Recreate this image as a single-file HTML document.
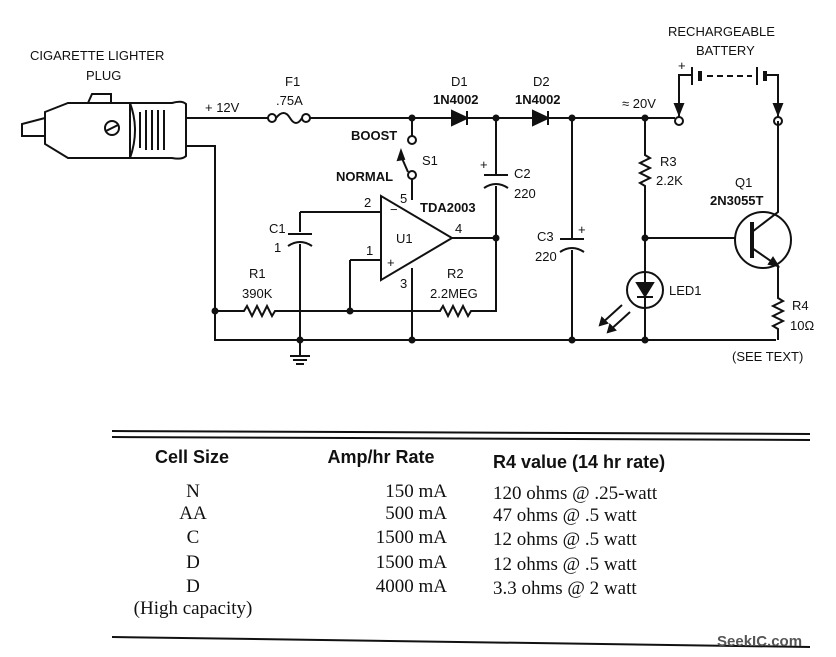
<!DOCTYPE html>
<html><head><meta charset="utf-8"><style>
html,body{margin:0;padding:0;background:#fff;}
svg{display:block}
.l{font-family:"Liberation Sans",sans-serif;font-size:13px;fill:#111}
.b{font-family:"Liberation Sans",sans-serif;font-size:13px;font-weight:bold;fill:#111}
.h{font-family:"Liberation Sans",sans-serif;font-size:18px;font-weight:bold;fill:#111}
.s{font-family:"Liberation Serif",serif;font-size:19px;fill:#111}
</style></head><body>
<svg width="836" height="657" viewBox="0 0 836 657" xmlns="http://www.w3.org/2000/svg">
<g stroke="#111" stroke-width="2" fill="none">
<!-- plug -->
<path d="M45,118 L22,124 L22,136 L45,136"/>
<path d="M45,112 L68,103 L130,103 L130,158 L68,158 L45,144 Z"/>
<path d="M88,103 L92,94 L111,94 L111,103"/>
<circle cx="112" cy="128" r="7"/><line x1="106" y1="131" x2="118" y2="125"/>
<path d="M130,103 L172,103 Q182,100 186,104 L186,156 Q182,160 172,158 L130,158 Q140,130 130,103"/>
<path d="M140,112 V148 M146,110 V150 M152,110 V150 M158,110 V150 M164,110 V150"/>
<!-- top wire -->
<path d="M187,118 H268"/>
<circle cx="272" cy="118" r="4"/><path d="M276,118 Q284,108 290,118 Q296,128 302,118"/><circle cx="306" cy="118" r="4"/>
<path d="M310,118 H452 M467,118 H533 M548,118 H675"/>
<path d="M452,111 V125 L467,118 Z" fill="#111"/><line x1="467" y1="111" x2="467" y2="125"/>
<path d="M533,111 V125 L548,118 Z" fill="#111"/><line x1="548" y1="111" x2="548" y2="125"/>
<circle cx="679" cy="121" r="4"/>
<!-- lower plug wire -->
<path d="M187,146 H215 V340 H776"/>
<!-- R1 line -->
<path d="M215,311 H244 l3,-5 5,10 5,-10 5,10 5,-10 5,10 3,-5 H440 l3,-5 5,10 5,-10 5,10 5,-10 5,10 3,-5 H496 V238"/>
<!-- switch -->
<path d="M412,118 V136"/><circle cx="412" cy="140" r="4"/><circle cx="412" cy="175" r="4"/>
<path d="M412,179 V200"/>
<path d="M408,172 L401,156"/><path d="M401,151 L398,160 L404,159 Z" fill="#111"/>
<!-- opamp -->
<path d="M381,196 L381,280 L452,238 Z"/>
<path d="M300,212 H381 M350,260 H381 M350,260 V311 M452,238 H496 M412,268 V340"/>
<path d="M300,212 V232 M300,244 V340"/>
<path d="M288,234 H312"/><path d="M288,246 Q300,238 312,246"/>
<!-- ground -->
<path d="M300,340 V356 M290,356 H310 M293,360 H307 M296,364 H304"/>
<!-- C2 -->
<path d="M496,118 V174 M496,186 V238 M484,175 H508"/><path d="M484,188 Q496,180 508,188"/>
<!-- C3 -->
<path d="M572,118 V238 M572,250 V340 M560,239 H584"/><path d="M560,252 Q572,244 584,252"/>
<!-- R3 -->
<path d="M645,118 V155 l5,3 -10,5 10,5 -10,5 10,5 -10,5 5,3 V340"/>
<path d="M645,238 H735"/>
<!-- LED -->
<circle cx="645" cy="290" r="18"/>
<path d="M637,283 H653 L645,296 Z" fill="#111"/><path d="M637,297 H653"/>
<path d="M622,305 L600,325 M630,312 L608,332"/>
<path d="M600,325 l2,-7 5,5 Z M608,332 l2,-7 5,5 Z" fill="#111"/>
<!-- Q1 -->
<circle cx="763" cy="240" r="28"/>
<path d="M752,222 V258" stroke-width="4"/>
<path d="M752,232 L778,212 V121 M752,248 L778,266 V298 l5,3 -10,5 10,5 -10,5 10,5 -10,5 5,3 V340"/>
<path d="M778,266 l-9,-2 4,-6 Z" fill="#111"/>
<circle cx="778" cy="121" r="4"/>
<!-- battery -->
<path d="M679,117 V75 H692 M692,67 V85" />
<path d="M700,71 V81" stroke-width="4"/>
<path d="M707,76 H752" stroke-dasharray="6,4"/>
<path d="M757,67 V85"/><path d="M765,71 V81" stroke-width="4"/>
<path d="M765,75 H778 V117"/>
<path d="M675,104 L679,114 L683,104 Z M774,104 L778,114 L782,104 Z" fill="#111"/>
</g>
<g fill="#111">
<circle cx="412" cy="118" r="3.5"/><circle cx="496" cy="118" r="3.5"/><circle cx="572" cy="118" r="3.5"/><circle cx="645" cy="118" r="3.5"/>
<circle cx="215" cy="311" r="3.5"/><circle cx="350" cy="311" r="3.5"/><circle cx="496" cy="238" r="3.5"/><circle cx="645" cy="238" r="3.5"/>
<circle cx="300" cy="340" r="3.5"/><circle cx="412" cy="340" r="3.5"/><circle cx="572" cy="340" r="3.5"/><circle cx="645" cy="340" r="3.5"/>
</g>
<text class="l" x="30" y="60">CIGARETTE LIGHTER</text>
<text class="l" x="86" y="80">PLUG</text>
<text class="l" x="205" y="112">+ 12V</text>
<text class="l" x="285" y="86">F1</text>
<text class="l" x="276" y="105">.75A</text>
<text class="b" x="351" y="140">BOOST</text>
<text class="b" x="336" y="181">NORMAL</text>
<text class="l" x="422" y="165">S1</text>
<text class="l" x="451" y="86">D1</text>
<text class="b" x="433" y="104">1N4002</text>
<text class="l" x="533" y="86">D2</text>
<text class="b" x="515" y="104">1N4002</text>
<text class="l" x="622" y="108">≈ 20V</text>
<text class="l" x="668" y="36">RECHARGEABLE</text>
<text class="l" x="696" y="55">BATTERY</text>
<text class="l" x="678" y="70" font-size="10">+</text>
<text class="l" x="364" y="207">2</text>
<text class="l" x="400" y="203">5</text>
<text class="l" x="390" y="214">−</text>
<text class="l" x="387" y="267">+</text>
<text class="b" x="420" y="212">TDA2003</text>
<text class="l" x="396" y="243">U1</text>
<text class="l" x="455" y="233">4</text>
<text class="l" x="366" y="255">1</text>
<text class="l" x="400" y="288">3</text>
<text class="l" x="269" y="233">C1</text>
<text class="l" x="274" y="252">1</text>
<text class="l" x="249" y="278">R1</text>
<text class="l" x="242" y="298">390K</text>
<text class="l" x="447" y="278">R2</text>
<text class="l" x="430" y="298">2.2MEG</text>
<text class="l" x="480" y="169" font-size="10">+</text>
<text class="l" x="514" y="178">C2</text>
<text class="l" x="514" y="198">220</text>
<text class="l" x="578" y="234" font-size="10">+</text>
<text class="l" x="537" y="241">C3</text>
<text class="l" x="535" y="261">220</text>
<text class="l" x="660" y="166">R3</text>
<text class="l" x="656" y="185">2.2K</text>
<text class="l" x="669" y="295">LED1</text>
<text class="l" x="735" y="187">Q1</text>
<text class="b" x="710" y="205">2N3055T</text>
<text class="l" x="792" y="310">R4</text>
<text class="l" x="790" y="330">10Ω</text>
<text class="l" x="732" y="361">(SEE TEXT)</text>
<!-- table -->
<g stroke="#111" stroke-width="2">
<line x1="112" y1="431" x2="810" y2="434"/><line x1="112" y1="437" x2="810" y2="440"/>
<line x1="112" y1="637" x2="810" y2="647"/>
</g>
<text class="h" x="192" y="463" text-anchor="middle">Cell Size</text>
<text class="h" x="381" y="463" text-anchor="middle">Amp/hr Rate</text>
<text class="h" x="493" y="468">R4 value (14 hr rate)</text>
<g class="s">
<text x="193" y="497" text-anchor="middle">N</text>
<text x="193" y="519" text-anchor="middle">AA</text>
<text x="193" y="543" text-anchor="middle">C</text>
<text x="193" y="568" text-anchor="middle">D</text>
<text x="193" y="592" text-anchor="middle">D</text>
<text x="193" y="614" text-anchor="middle">(High capacity)</text>
<text x="447" y="497" text-anchor="end">150 mA</text>
<text x="447" y="519" text-anchor="end">500 mA</text>
<text x="447" y="543" text-anchor="end">1500 mA</text>
<text x="447" y="568" text-anchor="end">1500 mA</text>
<text x="447" y="592" text-anchor="end">4000 mA</text>
<text x="493" y="499">120 ohms @ .25-watt</text>
<text x="493" y="521">47 ohms @ .5 watt</text>
<text x="493" y="545">12 ohms @ .5 watt</text>
<text x="493" y="570">12 ohms @ .5 watt</text>
<text x="493" y="594">3.3 ohms @ 2 watt</text>
</g>
<text x="717" y="646" font-family="Liberation Sans, sans-serif" font-size="15" font-weight="bold" fill="#555">SeekIC.com</text>
</svg>
</body></html>
